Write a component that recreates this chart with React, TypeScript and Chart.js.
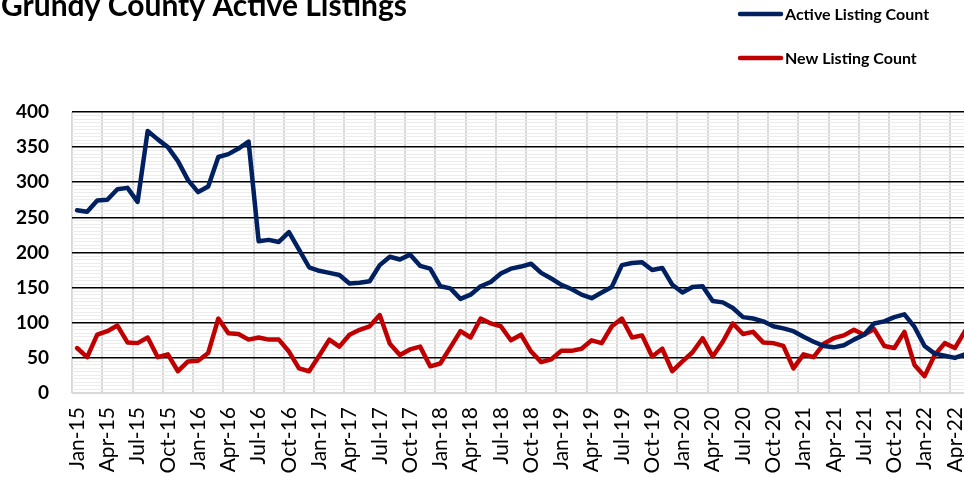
import React, { useEffect, useRef } from 'react';
import { Chart, registerables } from 'chart.js';

Chart.register(...registerables);

const chartTitle = 'Grundy County Active Listings';

const months = [
  'Jan-15', 'Feb-15', 'Mar-15', 'Apr-15', 'May-15', 'Jun-15', 'Jul-15', 'Aug-15', 'Sep-15', 'Oct-15', 'Nov-15', 'Dec-15',
  'Jan-16', 'Feb-16', 'Mar-16', 'Apr-16', 'May-16', 'Jun-16', 'Jul-16', 'Aug-16', 'Sep-16', 'Oct-16', 'Nov-16', 'Dec-16',
  'Jan-17', 'Feb-17', 'Mar-17', 'Apr-17', 'May-17', 'Jun-17', 'Jul-17', 'Aug-17', 'Sep-17', 'Oct-17', 'Nov-17', 'Dec-17',
  'Jan-18', 'Feb-18', 'Mar-18', 'Apr-18', 'May-18', 'Jun-18', 'Jul-18', 'Aug-18', 'Sep-18', 'Oct-18', 'Nov-18', 'Dec-18',
  'Jan-19', 'Feb-19', 'Mar-19', 'Apr-19', 'May-19', 'Jun-19', 'Jul-19', 'Aug-19', 'Sep-19', 'Oct-19', 'Nov-19', 'Dec-19',
  'Jan-20', 'Feb-20', 'Mar-20', 'Apr-20', 'May-20', 'Jun-20', 'Jul-20', 'Aug-20', 'Sep-20', 'Oct-20', 'Nov-20', 'Dec-20',
  'Jan-21', 'Feb-21', 'Mar-21', 'Apr-21', 'May-21', 'Jun-21', 'Jul-21', 'Aug-21', 'Sep-21', 'Oct-21', 'Nov-21', 'Dec-21',
  'Jan-22', 'Feb-22', 'Mar-22', 'Apr-22', 'May-22',
];

const activeListingCount = [
  260, 258, 274, 275, 290, 292, 272, 373, 361, 350, 330, 303,
  286, 294, 336, 340, 348, 358, 216, 218, 215, 229, 204, 179,
  174, 171, 168, 156, 157, 159, 182, 194, 190, 197, 181, 177,
  152, 149, 134, 140, 152, 158, 170, 177, 180, 184, 171, 163,
  154, 148, 140, 135, 143, 151, 182, 185, 186, 175, 178, 154,
  143, 151, 152, 131, 129, 121, 108, 106, 102, 95, 92, 88,
  80, 73, 67, 65, 68, 76, 83, 99, 102, 108, 112, 94,
  67, 56, 53, 50, 55,
];

const newListingCount = [
  64, 51, 83, 88, 96, 72, 71, 79, 51, 55, 31, 45,
  46, 57, 106, 85, 84, 76, 79, 76, 76, 59, 35, 31,
  53, 76, 66, 83, 90, 95, 111, 70, 54, 62, 66, 38,
  42, 65, 88, 79, 106, 99, 95, 75, 83, 59, 44, 48,
  60, 60, 63, 75, 71, 95, 106, 79, 82, 52, 63, 31,
  45, 58, 78, 52, 73, 99, 84, 87, 72, 71, 67, 35,
  55, 51, 70, 78, 82, 90, 83, 91, 67, 64, 87, 40,
  24, 54, 71, 64, 88,
];

const seriesNames = ['Active Listing Count', 'New Listing Count'];
const seriesColors = ['#002060', '#C00000'];
const yMajorTicks = [0, 50, 100, 150, 200, 250, 300, 350, 400];

const FONT = "Lato, 'Noto Sans', sans-serif";

const overlayPlugin = {
  id: 'overlay',
  afterDraw(chart: any) {
    const ctx = chart.ctx as CanvasRenderingContext2D;
    ctx.save();
    ctx.fillStyle = '#000000';
    ctx.font = `bold 30px ${FONT}`;
    ctx.textAlign = 'left';
    ctx.textBaseline = 'alphabetic';
    ctx.fillText(chartTitle, 1, 16);
    const legendY = [14, 58];
    chart.data.datasets.forEach((ds: any, i: number) => {
      const y = legendY[i];
      ctx.strokeStyle = ds.borderColor;
      ctx.lineWidth = 4.5;
      ctx.lineCap = 'round';
      ctx.beginPath();
      ctx.moveTo(740, y);
      ctx.lineTo(781, y);
      ctx.stroke();
      ctx.fillStyle = '#000000';
      ctx.font = `bold 16px ${FONT}`;
      ctx.textBaseline = 'middle';
      ctx.fillText(ds.label, 785, y + 1);
    });
    ctx.restore();
  },
};

export default function App() {
  const canvasRef = useRef<HTMLCanvasElement | null>(null);

  useEffect(() => {
    if (!canvasRef.current) return;
    const chart = new Chart(canvasRef.current, {
      type: 'line',
      data: {
        labels: months,
        datasets: [
          {
            label: seriesNames[0],
            data: activeListingCount,
            borderColor: seriesColors[0],
            backgroundColor: seriesColors[0],
            borderWidth: 4.5,
            pointRadius: 0,
            tension: 0,
            borderJoinStyle: 'round',
            borderCapStyle: 'round',
          },
          {
            label: seriesNames[1],
            data: newListingCount,
            borderColor: seriesColors[1],
            backgroundColor: seriesColors[1],
            borderWidth: 4.5,
            pointRadius: 0,
            tension: 0,
            borderJoinStyle: 'round',
            borderCapStyle: 'round',
          },
        ],
      },
      options: {
        responsive: false,
        animation: false,
        devicePixelRatio: 1,
        layout: { padding: { top: 112, left: 0, right: 20, bottom: 0 } },
        plugins: {
          legend: { display: false },
          title: { display: false },
          tooltip: { enabled: false },
        },
        scales: {
          x: {
            type: 'category',
            offset: true,
            border: { display: false },
            grid: {
              offset: true,
              drawTicks: false,
              color: (c: any) => (c.index % 3 === 0 ? '#d9d9d9' : 'rgba(0,0,0,0)'),
              lineWidth: 2,
            },
            ticks: {
              autoSkip: false,
              maxRotation: 90,
              minRotation: 90,
              padding: 14,
              color: '#000000',
              font: { family: FONT, size: 21, weight: 'normal' },
              callback: (_v: any, i: number) => (i % 3 === 0 ? months[i] : ''),
            },
            afterFit: (scale: any) => {
              scale.height = 84;
              scale.paddingLeft = 0;
              scale.paddingRight = 0;
            },
          },
          y: {
            min: 0,
            max: 400,
            border: { display: false },
            grid: {
              drawTicks: false,
              color: (c: any) => {
                const v = c.tick ? c.tick.value : 0;
                if (v === 0) return '#d9d9d9';
                return yMajorTicks.includes(v) ? '#000000' : '#ececec';
              },
              lineWidth: (c: any) => {
                const v = c.tick ? c.tick.value : 0;
                if (v === 0) return 2;
                return yMajorTicks.includes(v) ? 1.6 : 1;
              },
            },
            ticks: {
              stepSize: 5,
              autoSkip: false,
              maxTicksLimit: 200,
              padding: 23,
              color: '#000000',
              font: { family: FONT, size: 19, weight: 'bold' },
              callback: (v: any) => (yMajorTicks.includes(v) ? String(v) : ''),
            },
            afterFit: (scale: any) => {
              scale.width = 72;
            },
          },
        },
      } as any,
      plugins: [overlayPlugin],
    });
    return () => chart.destroy();
  }, []);

  return (
    <div
      style={{
        position: 'absolute',
        left: 0,
        top: 0,
        width: 964,
        height: 477,
        overflow: 'hidden',
        background: '#ffffff',
      }}
    >
      <canvas ref={canvasRef} width={990} height={477} style={{ display: 'block' }} />
    </div>
  );
}
